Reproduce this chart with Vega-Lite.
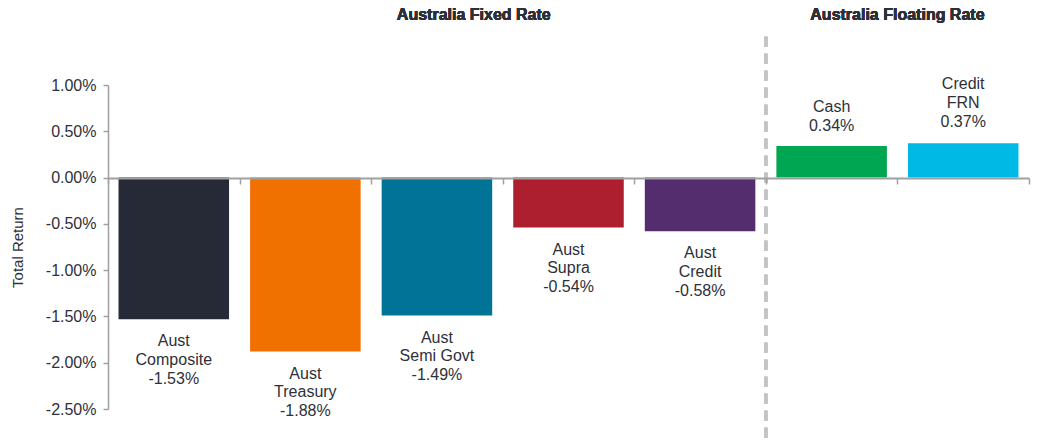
{
  "$schema": "https://vega.github.io/schema/vega-lite/v6.json",
  "width": 921,
  "height": 324,
  "autosize": "none",
  "padding": {"left": 108, "top": 85, "right": 9, "bottom": 32},
  "background": "white",
  "config": {"view": {"stroke": null}, "font": "Liberation Sans"},
  "data": {"values": [
    {"name": "Aust Composite", "value": -1.53, "label": "Aust\nComposite\n-1.53%"},
    {"name": "Aust Treasury", "value": -1.88, "label": "Aust\nTreasury\n-1.88%"},
    {"name": "Aust Semi Govt", "value": -1.49, "label": "Aust\nSemi Govt\n-1.49%"},
    {"name": "Aust Supra", "value": -0.54, "label": "Aust\nSupra\n-0.54%"},
    {"name": "Aust Credit", "value": -0.58, "label": "Aust\nCredit\n-0.58%"},
    {"name": "Cash", "value": 0.34, "label": "Cash\n0.34%"},
    {"name": "Credit FRN", "value": 0.37, "label": "Credit\nFRN\n0.37%"}
  ]},
  "layer": [
    {
      "mark": {"type": "bar", "width": {"band": 0.84}},
      "encoding": {
        "x": {"field": "name", "type": "nominal",
          "scale": {"domain": ["Aust Composite", "Aust Treasury", "Aust Semi Govt", "Aust Supra", "Aust Credit", "Cash", "Credit FRN"], "paddingInner": 0, "paddingOuter": 0},
          "axis": {"orient": "bottom", "offset": -231, "labels": false, "title": null, "tickBand": "extent", "domainColor": "#a0a0a0", "domainWidth": 2, "tickColor": "#a0a0a0", "tickWidth": 1.5, "tickSize": 6, "zindex": 1}},
        "y": {"field": "value", "type": "quantitative",
          "scale": {"domain": [-2.5, 1.0], "nice": false, "zero": false},
          "axis": {"values": [-2.5, -2.0, -1.5, -1.0, -0.5, 0, 0.5, 1.0], "grid": false, "title": "Total Return", "titleFont": "Liberation Sans", "titleFontWeight": "normal", "titleFontSize": 15, "titleColor": "#2e3039", "titlePadding": 20,
            "labelExpr": "(datum.value < 0 ? '-' : '') + format(abs(datum.value), '.2f') + '%'",
            "labelFont": "Liberation Sans", "labelFontSize": 16, "labelColor": "#2e3039", "labelPadding": 7,
            "domainColor": "#a0a0a0", "domainWidth": 1.5, "tickColor": "#a0a0a0", "tickSize": 5, "tickWidth": 1.5}},
        "color": {"field": "name", "type": "nominal", "legend": null,
          "scale": {"domain": ["Aust Composite", "Aust Treasury", "Aust Semi Govt", "Aust Supra", "Aust Credit", "Cash", "Credit FRN"],
            "range": ["#262a36", "#f07000", "#007396", "#ad1f2e", "#532d6d", "#00a651", "#00b9e4"]}}
      }
    },
    {
      "transform": [{"filter": "datum.value < 0"}],
      "mark": {"type": "text", "baseline": "top", "align": "center", "dy": 14, "fontSize": 16, "lineHeight": 18.7, "lineBreak": "\n", "color": "#2e3039"},
      "encoding": {
        "x": {"field": "name", "type": "nominal"},
        "y": {"field": "value", "type": "quantitative"},
        "text": {"field": "label"}
      }
    },
    {
      "transform": [{"filter": "datum.name == 'Cash'"}],
      "mark": {"type": "text", "baseline": "bottom", "align": "center", "dy": -31, "fontSize": 16, "lineHeight": 18.7, "lineBreak": "\n", "color": "#2e3039"},
      "encoding": {
        "x": {"field": "name", "type": "nominal"},
        "y": {"field": "value", "type": "quantitative"},
        "text": {"field": "label"}
      }
    },
    {
      "transform": [{"filter": "datum.name == 'Credit FRN'"}],
      "mark": {"type": "text", "baseline": "bottom", "align": "center", "dy": -51, "fontSize": 16, "lineHeight": 18.7, "lineBreak": "\n", "color": "#2e3039"},
      "encoding": {
        "x": {"field": "name", "type": "nominal"},
        "y": {"field": "value", "type": "quantitative"},
        "text": {"field": "label"}
      }
    },
    {
      "mark": {"type": "rule", "color": "#c4c4c4", "strokeWidth": 3, "strokeDash": [10, 7], "clip": false},
      "encoding": {
        "x": {"datum": "Cash", "bandPosition": 0},
        "y": {"datum": 1.52},
        "y2": {"datum": -2.86}
      }
    },
    {
      "mark": {"type": "text", "fontSize": 16, "fontWeight": "bold", "color": "#2e3039", "baseline": "middle", "align": "center", "text": "Australia Fixed Rate"},
      "encoding": {
        "x": {"datum": "Aust Semi Govt", "bandPosition": 0.78},
        "y": {"datum": 1.755}
      }
    },
    {
      "mark": {"type": "text", "fontSize": 16, "fontWeight": "bold", "color": "#2e3039", "baseline": "middle", "align": "center", "text": "Australia Floating Rate"},
      "encoding": {
        "x": {"datum": "Credit FRN", "bandPosition": 0},
        "y": {"datum": 1.755}
      }
    }
  ]
}
